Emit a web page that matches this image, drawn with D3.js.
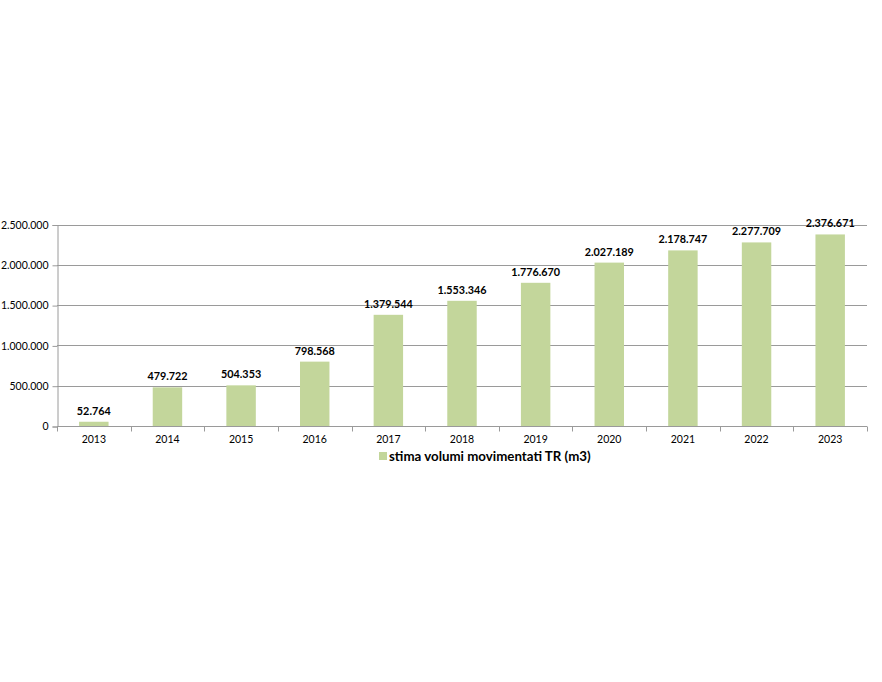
<!DOCTYPE html>
<html>
<head>
<meta charset="utf-8">
<script src="https://cdn.jsdelivr.net/npm/d3@7"></script>
<style>
  body { margin: 0; background: #fff; }
  text { font-family: Lato, "Open Sans", sans-serif; }
</style>
</head>
<body>
<svg id="chart" width="882" height="682"></svg>
<script>
var years = ["2013", "2014", "2015", "2016", "2017", "2018", "2019", "2020", "2021", "2022", "2023"];
var volumes = [52764, 479722, 504353, 798568, 1379544, 1553346, 1776670, 2027189, 2178747, 2277709, 2376671];
var yTicks = [0, 500000, 1000000, 1500000, 2000000, 2500000];
var seriesName = "stima volumi movimentati TR (m3)";

var barColor = "#c3d69b";
var margin = { left: 57, right: 15, top: 224.5, bottom: 256 };

var svg = d3.select("#chart");
var W = 882, H = 682;

// italian style thousands separator
var fmt = d3.formatLocale({ decimal: ",", thousands: ".", grouping: [3], currency: ["€", ""] }).format(",d");

var x = d3.scaleBand()
    .domain(years)
    .range([margin.left, W - margin.right])
    .paddingInner(0.6)
    .paddingOuter(0.3);

var y = d3.scaleLinear()
    .domain([0, 2500000])
    .range([H - margin.bottom, margin.top]);

var g = svg.append("g");

// gridlines
g.selectAll(".grid")
    .data(yTicks.slice(1))
    .enter()
    .append("line")
    .attr("x1", margin.left)
    .attr("x2", W - margin.right)
    .attr("y1", d => Math.round(y(d)) + 0.5)
    .attr("y2", d => Math.round(y(d)) + 0.5)
    .style("stroke", "#9a9a9a")
    .style("stroke-width", "1px");

// y axis
var yAxis = g.append("g")
    .attr("transform", "translate(" + (margin.left + 0.5) + ",0.5)")
    .call(d3.axisLeft(y).tickValues(yTicks).tickFormat(fmt).tickSize(5).tickPadding(4));
yAxis.select(".domain").style("stroke", "#9a9a9a");
yAxis.selectAll(".tick line").style("stroke", "#9a9a9a");
yAxis.selectAll("text").style("font-size", "10.5px").style("fill", "#000")
    .style("font-family", "Lato, 'Open Sans', sans-serif");

// x axis with ticks between categories
var xg = g.append("g")
    .attr("transform", "translate(0," + (Math.round(y(0)) + 0.5) + ")");
xg.append("line")
    .attr("x1", margin.left)
    .attr("x2", W - margin.right)
    .style("stroke", "#9a9a9a");
var bounds = d3.range(years.length + 1).map(i => margin.left + i * (W - margin.left - margin.right) / years.length);
xg.selectAll(".xt")
    .data(bounds)
    .enter()
    .append("line")
    .attr("x1", d => Math.round(d) + 0.5)
    .attr("x2", d => Math.round(d) + 0.5)
    .attr("y1", 0)
    .attr("y2", 5)
    .style("stroke", "#9a9a9a");
xg.selectAll(".xl")
    .data(years)
    .enter()
    .append("text")
    .attr("x", d => x(d) + x.bandwidth() / 2)
    .attr("y", 16)
    .attr("text-anchor", "middle")
    .style("font-size", "10.5px")
    .text(d => d);

// bars
g.selectAll(".bar")
    .data(volumes)
    .enter()
    .append("rect")
    .attr("class", "bar")
    .attr("x", (d, i) => x(years[i]))
    .attr("width", x.bandwidth())
    .attr("y", d => y(d))
    .attr("height", d => y(0) - y(d))
    .style("fill", barColor);

// value labels
g.selectAll(".val")
    .data(volumes)
    .enter()
    .append("text")
    .attr("x", (d, i) => x(years[i]) + x.bandwidth() / 2)
    .attr("y", d => y(d) - 7)
    .attr("text-anchor", "middle")
    .style("font-size", "10.8px")
    .style("font-weight", "bold")
    .text(d => fmt(d));

// legend
var legend = svg.append("g")
    .attr("transform", "translate(379,452)");
legend.append("rect")
    .attr("width", 8)
    .attr("height", 8)
    .style("fill", barColor);
legend.append("text")
    .attr("x", 10)
    .attr("y", 8.5)
    .style("font-size", "13.3px")
    .style("font-weight", "bold")
    .text(seriesName);
</script>
</body>
</html>
